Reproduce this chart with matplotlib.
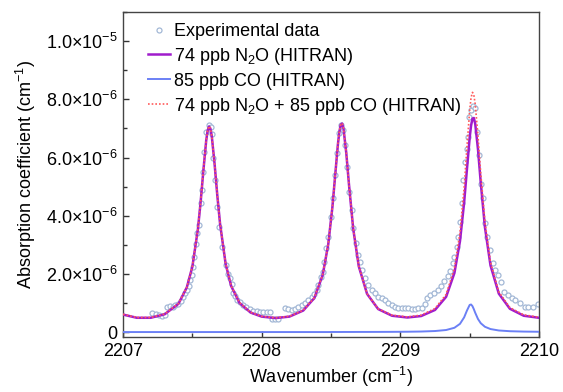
"""
Mid-IR absorption spectrum: experiment vs. HITRAN (N2O + CO)
Run: python plot.py
"""

import matplotlib
matplotlib.use("Agg")
import matplotlib.pyplot as plt
import matplotlib.ticker as mticker

plt.rcParams["font.family"] = ["Liberation Sans", "DejaVu Sans"]
plt.rcParams["mathtext.fontset"] = "custom"
plt.rcParams["mathtext.rm"] = "Liberation Sans"
plt.rcParams["mathtext.it"] = "Liberation Sans:italic"
plt.rcParams["mathtext.bf"] = "Liberation Sans:bold"

# ── Data (absorption in units of 1e-6 cm^-1) ──────────────────
wn_model = [2207.00, 2207.10, 2207.20, 2207.30, 2207.40, 2207.46, 2207.50, 2207.54,
            2207.56, 2207.58, 2207.60, 2207.61, 2207.62, 2207.63, 2207.64, 2207.66,
            2207.68, 2207.70, 2207.74, 2207.78, 2207.84, 2207.92, 2208.00, 2208.10,
            2208.20, 2208.30, 2208.38, 2208.44, 2208.48, 2208.51, 2208.53, 2208.55,
            2208.56, 2208.57, 2208.58, 2208.59, 2208.61, 2208.63, 2208.66, 2208.70,
            2208.76, 2208.84, 2208.94, 2209.05, 2209.15, 2209.25, 2209.33, 2209.39,
            2209.43, 2209.46, 2209.48, 2209.50, 2209.51, 2209.52, 2209.53, 2209.54,
            2209.56, 2209.58, 2209.61, 2209.65, 2209.71, 2209.79, 2209.89, 2210.00]

n2o_hitran = [0.61, 0.50, 0.50, 0.62, 0.98, 1.54, 2.25, 3.54,
              4.49, 5.58, 6.59, 6.92, 7.07, 7.00, 6.74, 5.80,
              4.70, 3.72, 2.35, 1.59, 1.01, 0.68, 0.54, 0.49,
              0.54, 0.75, 1.18, 1.97, 3.02, 4.30, 5.39, 6.47,
              6.88, 7.13, 7.17, 7.00, 6.16, 5.05, 3.56, 2.27,
              1.32, 0.80, 0.57, 0.51, 0.56, 0.77, 1.22, 2.04,
              3.13, 4.46, 5.59, 6.69, 7.10, 7.34, 7.36, 7.16,
              6.28, 5.13, 3.61, 2.30, 1.33, 0.81, 0.57, 0.50]

co_hitran = [0.01, 0.01, 0.01, 0.01, 0.01, 0.01, 0.01, 0.01,
             0.01, 0.01, 0.01, 0.01, 0.01, 0.01, 0.01, 0.01,
             0.01, 0.01, 0.01, 0.01, 0.01, 0.01, 0.01, 0.01,
             0.01, 0.01, 0.01, 0.01, 0.01, 0.012, 0.012, 0.012,
             0.012, 0.012, 0.012, 0.013, 0.013, 0.013, 0.013, 0.014,
             0.014, 0.015, 0.017, 0.021, 0.028, 0.045, 0.08, 0.157,
             0.292, 0.514, 0.745, 0.942, 0.956, 0.90, 0.794, 0.672,
             0.457, 0.313, 0.191, 0.113, 0.064, 0.039, 0.026, 0.02]

sum_hitran = [0.62, 0.51, 0.51, 0.63, 0.99, 1.55, 2.26, 3.55,
              4.50, 5.59, 6.60, 6.93, 7.08, 7.01, 6.75, 5.81,
              4.71, 3.73, 2.36, 1.60, 1.02, 0.69, 0.55, 0.50,
              0.55, 0.76, 1.19, 1.98, 3.03, 4.31, 5.40, 6.48,
              6.89, 7.14, 7.18, 7.01, 6.17, 5.06, 3.57, 2.28,
              1.33, 0.81, 0.59, 0.53, 0.59, 0.82, 1.30, 2.20,
              3.42, 4.97, 6.34, 7.63, 8.06, 8.24, 8.15, 7.83,
              6.74, 5.44, 3.80, 2.41, 1.39, 0.85, 0.60, 0.52]

wn_exp = [2207.210, 2207.235, 2207.260, 2207.280, 2207.300, 2207.315, 2207.340, 2207.360,
          2207.375, 2207.400, 2207.415, 2207.435, 2207.450, 2207.465, 2207.475, 2207.483,
          2207.495, 2207.502, 2207.512, 2207.526, 2207.536, 2207.546, 2207.560, 2207.572,
          2207.579, 2207.586, 2207.601, 2207.618, 2207.635, 2207.640, 2207.651, 2207.666,
          2207.680, 2207.695, 2207.712, 2207.743, 2207.760, 2207.772, 2207.786, 2207.796,
          2207.808, 2207.824, 2207.844, 2207.866, 2207.890, 2207.916, 2207.940, 2207.964,
          2207.988, 2208.012, 2208.036, 2208.060, 2208.072, 2208.096, 2208.120, 2208.168,
          2208.192, 2208.216, 2208.240, 2208.264, 2208.288, 2208.312, 2208.336, 2208.361,
          2208.377, 2208.397, 2208.408, 2208.425, 2208.440, 2208.452, 2208.464, 2208.478,
          2208.498, 2208.512, 2208.527, 2208.541, 2208.555, 2208.570, 2208.584, 2208.603,
          2208.615, 2208.630, 2208.649, 2208.661, 2208.680, 2208.697, 2208.709, 2208.724,
          2208.745, 2208.769, 2208.793, 2208.817, 2208.841, 2208.866, 2208.889, 2208.913,
          2208.938, 2208.961, 2208.985, 2209.010, 2209.034, 2209.057, 2209.082, 2209.106,
          2209.130, 2209.154, 2209.178, 2209.192, 2209.216, 2209.246, 2209.270, 2209.295,
          2209.318, 2209.342, 2209.358, 2209.377, 2209.387, 2209.406, 2209.418, 2209.430,
          2209.442, 2209.454, 2209.466, 2209.478, 2209.490, 2209.497, 2209.507, 2209.526,
          2209.538, 2209.550, 2209.564, 2209.579, 2209.598, 2209.612, 2209.627, 2209.647,
          2209.671, 2209.683, 2209.707, 2209.724, 2209.748, 2209.779, 2209.803, 2209.827,
          2209.863, 2209.899, 2209.923, 2209.959, 2209.995]

abs_exp = [0.65, 0.62, 0.59, 0.56, 0.58, 0.86, 0.90, 0.88,
           0.94, 0.99, 1.08, 1.20, 1.36, 1.45, 1.59, 1.79,
           1.97, 2.25, 2.59, 3.05, 3.40, 3.68, 4.43, 4.88,
           5.51, 6.20, 6.88, 7.11, 7.05, 6.80, 5.97, 5.22,
           4.31, 3.62, 2.94, 2.31, 2.02, 1.85, 1.66, 1.36,
           1.25, 1.11, 1.03, 0.94, 0.86, 0.79, 0.74, 0.73,
           0.71, 0.69, 0.69, 0.71, 0.45, 0.45, 0.45, 0.82,
           0.79, 0.77, 0.81, 0.86, 0.94, 1.02, 1.11, 1.20,
           1.31, 1.45, 1.62, 1.91, 2.08, 2.42, 2.88, 3.28,
           3.97, 4.60, 5.40, 6.16, 6.85, 7.11, 6.96, 6.43,
           5.68, 4.82, 4.20, 3.57, 3.07, 2.65, 2.42, 2.14,
           1.85, 1.62, 1.45, 1.34, 1.22, 1.17, 1.11, 1.02,
           0.94, 0.88, 0.84, 0.84, 0.82, 0.84, 0.79, 0.79,
           0.82, 0.84, 0.99, 1.17, 1.27, 1.36, 1.47, 1.60,
           1.75, 1.92, 2.12, 2.37, 2.59, 2.94, 3.28, 3.79,
           4.43, 5.22, 5.85, 6.31, 6.71, 7.40, 7.65, 7.76,
           7.72, 6.88, 6.08, 5.11, 4.60, 3.74, 3.28, 2.82,
           2.37, 2.14, 1.97, 1.74, 1.39, 1.28, 1.17, 1.11,
           1.02, 0.88, 0.86, 0.88, 0.99]

yticks = [0, 2e-6, 4e-6, 6e-6, 8e-6, 1e-5]
ytick_labels = ["0", r"2.0$\times$10$^{-6}$", r"4.0$\times$10$^{-6}$",
                r"6.0$\times$10$^{-6}$", r"8.0$\times$10$^{-6}$", r"1.0$\times$10$^{-5}$"]

SCALE = 1e-6


def scaled(vals):
    return [v * SCALE for v in vals]


# ── Plot ──────────────────────────────────────────────────────
fig = plt.figure(figsize=(5.63, 3.92), dpi=100)
ax = fig.add_axes([0.2185, 0.1403, 0.7389, 0.8291])

ax.plot(wn_exp, scaled(abs_exp), "o", ms=3.6, mfc="white", mec="#a3b8d6",
        mew=0.9, ls="none", label="Experimental data", zorder=2)
ax.plot(wn_model, scaled(n2o_hitran), color="#a01ccc", lw=1.8,
        label=r"74 ppb N$_2$O (HITRAN)", zorder=3)
ax.plot(wn_model, scaled(co_hitran), color="#6b80f5", lw=1.4,
        label="85 ppb CO (HITRAN)", zorder=3)
ax.plot(wn_model, scaled(sum_hitran), color="#ff5a5a", lw=1.2, ls=(0, (1, 1.2)),
        label=r"74 ppb N$_2$O + 85 ppb CO (HITRAN)", zorder=4)

ax.set_xlim(2207, 2210)
ax.set_ylim(-1.6e-7, 1.1e-5)
ax.xaxis.set_major_locator(mticker.MultipleLocator(1))
ax.xaxis.set_minor_locator(mticker.MultipleLocator(0.5))
ax.xaxis.set_major_formatter(mticker.FormatStrFormatter("%d"))
ax.set_yticks(yticks)
ax.set_yticklabels(ytick_labels)
ax.yaxis.set_minor_locator(mticker.MultipleLocator(1e-6))

ax.tick_params(which="both", direction="in", labelsize=13, top=False, right=False,
               color="#333333", width=1)
ax.tick_params(which="major", length=4, pad=4)
ax.tick_params(which="minor", length=3)
for s in ax.spines.values():
    s.set_color("#444444")
    s.set_linewidth(1.0)

ax.set_xlabel(r"Wavenumber (cm$^{-1}$)", fontsize=13, labelpad=4)
ax.set_ylabel(r"Absorption coefficient (cm$^{-1}$)", fontsize=13, labelpad=6)

ax.legend(loc="upper left", bbox_to_anchor=(0.035, 1.0), frameon=False, fontsize=13,
          handlelength=1.2, handletextpad=0.2, labelspacing=0.33, borderaxespad=0.2)

fig.savefig("out.png", dpi=100)
